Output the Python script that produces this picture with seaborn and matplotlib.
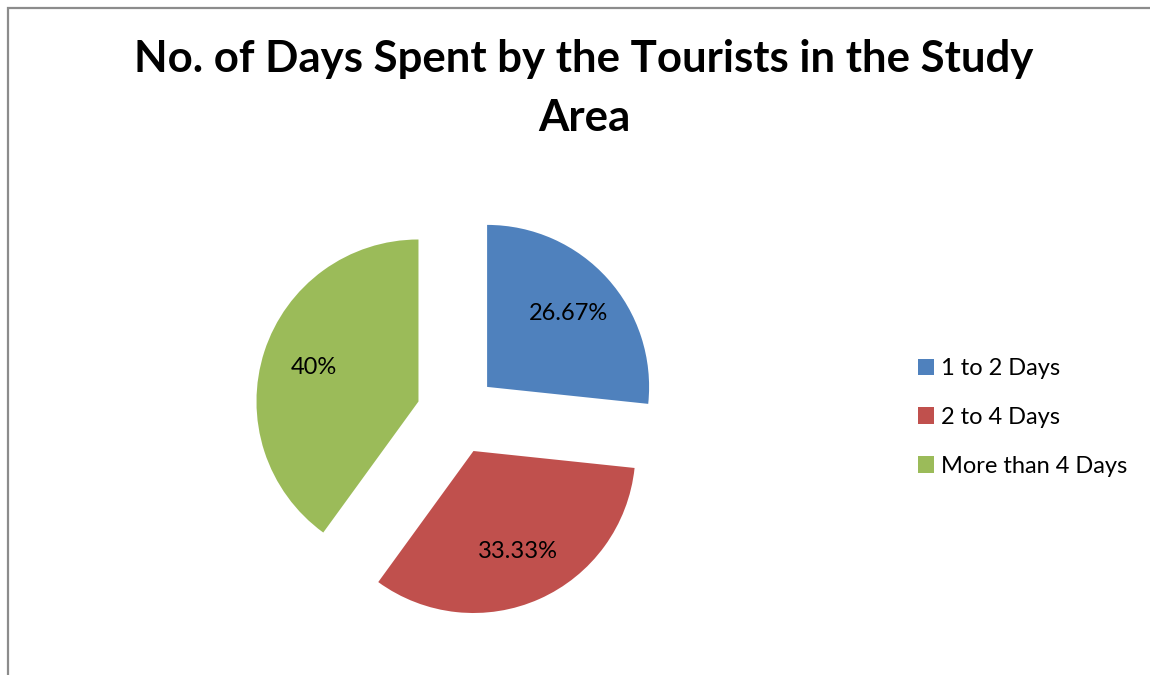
import matplotlib
matplotlib.use("Agg")
import matplotlib.pyplot as plt
from matplotlib.patches import Rectangle
import seaborn as sns

categories = ["1 to 2 Days", "2 to 4 Days", "More than 4 Days"]
shares = [26.67, 33.33, 40.0]
colors = ["#4F81BD", "#C0504D", "#9BBB59"]
title = "No. of Days Spent by the Tourists in the Study\nArea"

sns.set_theme(style="white")
plt.rcParams["font.family"] = ["Lato", "DejaVu Sans"]
plt.rcParams["text.color"] = "black"

W, H = 1150, 675
fig = plt.figure(figsize=(W / 100, H / 100), dpi=100)
fig.patch.set_facecolor("white")

# pie placed by its centre and radius in pixels
cx, cy, r = 457, 414, 162
span = 1.5
ax = fig.add_axes([(cx - span * r) / W, (H - cy - span * r) / H,
                   2 * span * r / W, 2 * span * r / H])

palette = sns.color_palette(colors)
wedges, texts, autotexts = ax.pie(
    shares,
    colors=palette,
    startangle=90,
    counterclock=False,
    explode=[0.25] * len(shares),
    autopct=lambda p: f"{round(p, 2):g}%",
    pctdistance=0.68,
    textprops=dict(fontsize=17, color="black"),
    wedgeprops=dict(linewidth=0),
)
ax.set_xlim(-span, span)
ax.set_ylim(-span, span)
ax.set_aspect("auto")
ax.axis("off")

fig.text(584 / W, 1 - 39 / H, title, ha="center", va="top",
         fontsize=31.5, fontweight="bold", color="black",
         family=["Lato", "DejaVu Sans"], linespacing=1.58)

fig.legend(wedges, categories, loc="upper left",
           bbox_to_anchor=(918 / W, 1 - 358 / H),
           frameon=False, fontsize=17, handlelength=0.68, handleheight=0.68,
           handletextpad=0.3, labelspacing=1.18, borderpad=0, borderaxespad=0)

# chart-area border: only top and left edges fall inside the image
fig.add_artist(Rectangle((8 / W, -0.05), 1.2, 1.05 - 8 / H,
                         transform=fig.transFigure, fill=False,
                         edgecolor="#8c8c8c", linewidth=1.6))

fig.savefig("out.png", dpi=100, facecolor="white")
